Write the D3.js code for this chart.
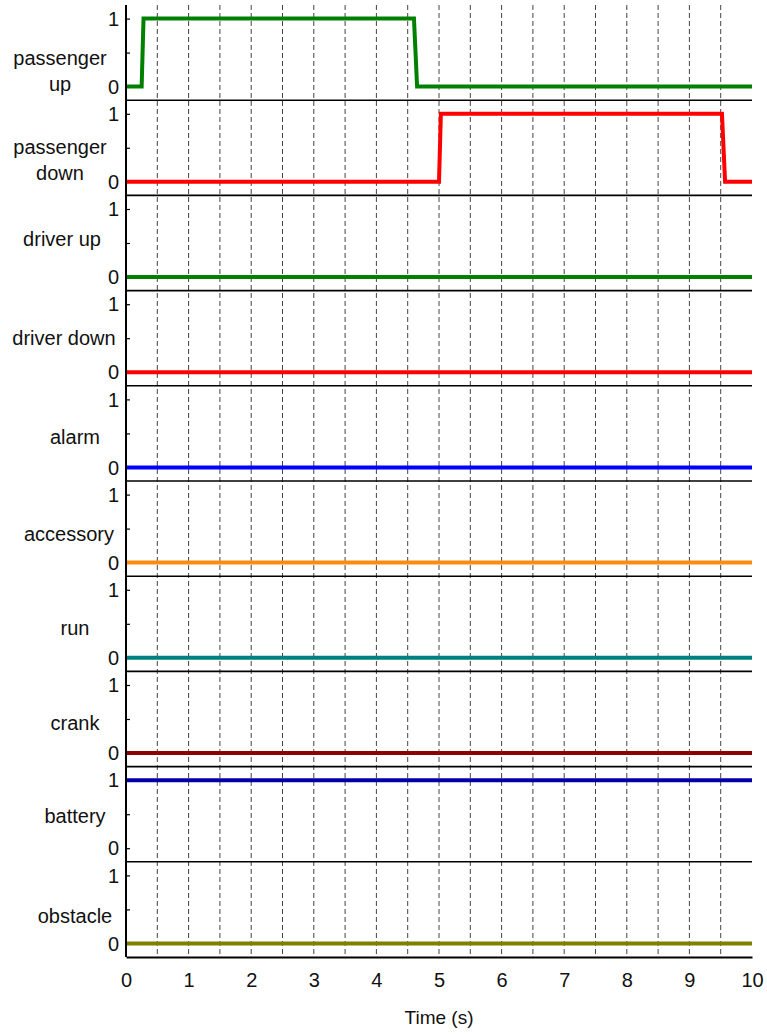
<!DOCTYPE html>
<html>
<head>
<meta charset="utf-8">
<script src="https://cdn.jsdelivr.net/npm/d3@7/dist/d3.min.js"></script>
<style>
  body { margin: 0; background: #fff; }
  text { font-family: Arial, "Liberation Sans", sans-serif; fill: #111; }
</style>
</head>
<body>
<div id="chart"></div>
<script>
// signal names (line breaks as separate entries)
const signalNames = [
  ["passenger", "up"], ["passenger", "down"], ["driver up"], ["driver down"],
  ["alarm"], ["accessory"], ["run"], ["crank"], ["battery"], ["obstacle"]
];
const signalColors = ["#008000", "#ff0000", "#008000", "#ff0000", "#0000ff",
  "#ff8a10", "#008080", "#8b0000", "#0000a8", "#808000"];

// time points and values of each signal
const passengerUpT = [0, 0.25, 0.28, 4.6, 4.65, 10];
const passengerUpV = [0, 0, 1, 1, 0, 0];
const passengerDownT = [0, 5.0, 5.03, 9.52, 9.57, 10];
const passengerDownV = [0, 0, 1, 1, 0, 0];
const driverUpT = [0, 10], driverUpV = [0, 0];
const driverDownT = [0, 10], driverDownV = [0, 0];
const alarmT = [0, 10], alarmV = [0, 0];
const accessoryT = [0, 10], accessoryV = [0, 0];
const runT = [0, 10], runV = [0, 0];
const crankT = [0, 10], crankV = [0, 0];
const batteryT = [0, 10], batteryV = [1, 1];
const obstacleT = [0, 10], obstacleV = [0, 0];

const seriesT = [passengerUpT, passengerDownT, driverUpT, driverDownT, alarmT,
  accessoryT, runT, crankT, batteryT, obstacleT];
const seriesV = [passengerUpV, passengerDownV, driverUpV, driverDownV, alarmV,
  accessoryV, runV, crankV, batteryV, obstacleV];

const xTicks = [0, 1, 2, 3, 4, 5, 6, 7, 8, 9, 10];
const gridTimes = d3.range(1, 20).map(i => i * 0.5);
const yTicks = [0, 0.5, 1];
const yTickLabels = ["0", "", "1"];

// label placement (layout only)
const labelX = [60, 60, 62, 64, 75, 69, 75, 75, 75, 75];
const labelY = [53, 47, 43, 47, 51, 53, 52, 51, 49, 54];

const width = 767;
const height = 1034;
const margin = { top: 5, right: 15, bottom: 77, left: 126 };
const plotH = height - margin.top - margin.bottom;
const panelH = plotH / signalNames.length;

const svg = d3.select("#chart")
  .append("svg")
  .attr("width", width)
  .attr("height", height);

const x = d3.scaleLinear()
  .domain([0, 10])
  .range([margin.left, width - margin.right]);

// dashed grid lines
svg.append("g")
  .selectAll("line")
  .data(gridTimes)
  .join("line")
  .attr("x1", d => x(d))
  .attr("x2", d => x(d))
  .attr("y1", margin.top)
  .attr("y2", margin.top + plotH)
  .attr("stroke", "#444")
  .attr("stroke-width", 1)
  .attr("stroke-dasharray", "5,3");

signalNames.forEach((name, i) => {
  const top = margin.top + i * panelH;
  const y = d3.scaleLinear()
    .domain([-0.2, 1.2])
    .range([top + panelH, top]);

  const g = svg.append("g");

  // separator on top of the panel
  if (i > 0) {
    g.append("line")
      .attr("x1", x(0))
      .attr("x2", x(10))
      .attr("y1", top)
      .attr("y2", top)
      .attr("stroke", "#000")
      .attr("stroke-width", 1.6);
  }

  const yAxis = d3.axisRight(y)
    .tickValues(yTicks)
    .tickSize(4)
    .tickFormat(() => "");
  const ay = g.append("g")
    .attr("transform", `translate(${margin.left},0)`)
    .call(yAxis);
  ay.select(".domain").remove();
  ay.selectAll(".tick line").attr("stroke", "#000").attr("stroke-width", 1.2);

  g.selectAll(".ylab")
    .data(yTicks)
    .join("text")
    .attr("class", "ylab")
    .attr("x", margin.left - 7)
    .attr("y", d => y(d))
    .attr("dy", "0.36em")
    .attr("text-anchor", "end")
    .attr("font-size", 20)
    .text((d, k) => yTickLabels[k]);

  const pts = seriesT[i].map((t, k) => [t, seriesV[i][k]]);
  const line = d3.line()
    .x(d => x(d[0]))
    .y(d => y(d[1]));
  g.append("path")
    .datum(pts)
    .attr("d", line)
    .attr("fill", "none")
    .attr("stroke", signalColors[i])
    .attr("stroke-width", 4)
    .attr("stroke-linejoin", "miter");

  const lab = g.append("text")
    .attr("x", labelX[i])
    .attr("y", top + labelY[i])
    .attr("text-anchor", "middle")
    .attr("font-size", 20);
  name.forEach((s, k) => {
    lab.append("tspan")
      .attr("x", labelX[i])
      .attr("dy", k === 0 ? "0.36em" : 26)
      .text(s);
  });
});

// left axis line
svg.append("line")
  .attr("x1", margin.left)
  .attr("x2", margin.left)
  .attr("y1", margin.top)
  .attr("y2", margin.top + plotH)
  .attr("stroke", "#000")
  .attr("stroke-width", 2);

// bottom axis
const xAxis = d3.axisBottom(x)
  .tickValues(xTicks)
  .tickSize(0)
  .tickPadding(16)
  .tickFormat(d3.format("d"));
const ax = svg.append("g")
  .attr("transform", `translate(0,${margin.top + plotH})`)
  .call(xAxis);
ax.select(".domain").attr("stroke", "#000").attr("stroke-width", 2);
ax.selectAll(".tick text")
  .attr("font-size", 20)
  .attr("font-family", "Arial, 'Liberation Sans', sans-serif")
  .attr("fill", "#111");

svg.append("text")
  .attr("x", (x(0) + x(10)) / 2)
  .attr("y", 1024)
  .attr("text-anchor", "middle")
  .attr("font-size", 19)
  .text("Time (s)");
</script>
</body>
</html>
